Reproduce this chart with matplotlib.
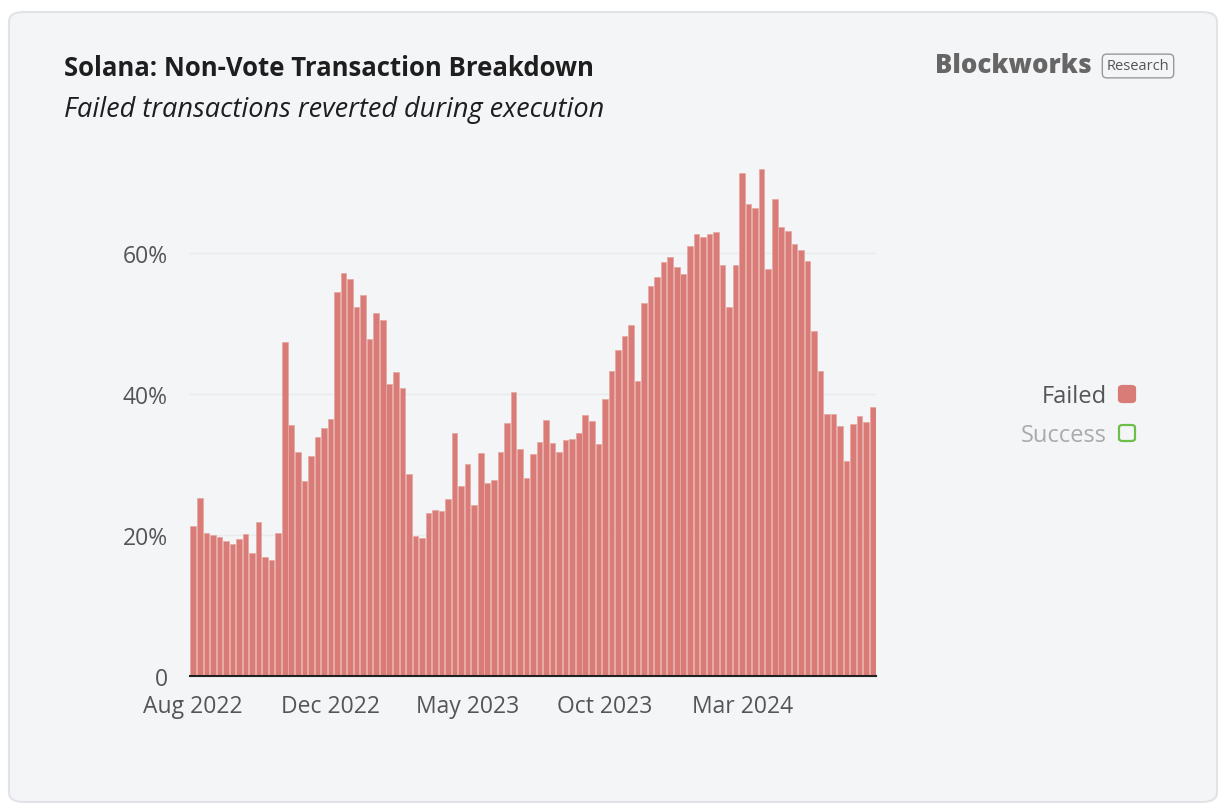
import matplotlib
matplotlib.use('Agg')
from matplotlib import pyplot as plt
from matplotlib.patches import FancyBboxPatch

plt.rcParams['font.family'] = ['Open Sans', 'DejaVu Sans']

# weekly share of non-vote transactions that failed, Aug 2022 - Aug 2024 (%)
failed = [
    21.2, 25.3, 20.3, 20.0, 19.7, 19.1, 18.7, 19.4, 20.1, 17.5,
    21.9, 16.9, 16.5, 20.2, 47.3, 35.6, 31.8, 27.7, 31.2, 33.9,
    35.2, 36.4, 54.4, 57.1, 56.3, 52.3, 54.0, 47.8, 51.4, 50.5,
    41.4, 43.1, 40.8, 28.7, 19.9, 19.6, 23.1, 23.5, 23.4, 25.1,
    34.5, 27.0, 30.1, 24.3, 31.6, 27.3, 27.8, 31.8, 35.9, 40.3,
    32.2, 28.1, 31.5, 33.2, 36.3, 33.0, 31.8, 33.5, 33.6, 34.5,
    37.0, 36.1, 32.9, 39.2, 43.3, 46.2, 48.2, 49.7, 41.8, 52.9,
    55.3, 56.5, 58.7, 59.4, 58.0, 57.0, 61.0, 62.7, 62.2, 62.6,
    63.0, 58.3, 52.3, 58.3, 71.3, 66.9, 66.3, 71.9, 57.7, 67.6,
    63.6, 63.1, 61.3, 60.4, 58.8, 48.9, 43.3, 37.2, 37.1, 35.5,
    30.5, 35.7, 36.9, 36.0, 38.2,
]
tick_idx = [0, 21, 42, 63, 84]
tick_labels = ['Aug 2022', 'Dec 2022', 'May 2023', 'Oct 2023', 'Mar 2024']
y_ticks = [0, 20, 40, 60]
y_labels = ['0', '20%', '40%', '60%']

bg = '#f4f5f7'
red = '#d97b76'
green = '#6cc04a'

fig = plt.figure(figsize=(12.28, 8.12), dpi=100)
fig.patch.set_facecolor('white')

# rounded card behind everything
card = FancyBboxPatch((9 / 1228, 9 / 812), 1208 / 1228, 790 / 812,
                      boxstyle='round,pad=0,rounding_size=0.012',
                      transform=fig.transFigure, facecolor=bg,
                      edgecolor='#e2e3e6', linewidth=1.5, zorder=-10)
fig.patches.append(card)

ax = fig.add_axes([190 / 1228, 1 - 677 / 812, 686 / 1228, 515 / 812])
ax.set_zorder(5)
ax.patch.set_alpha(0)

x = list(range(len(failed)))
ax.bar(x, failed, width=0.86, color=red, edgecolor='#e8a9a5', linewidth=0.6, zorder=2)

ax.set_xlim(-0.5, len(failed) - 0.5)
ax.set_ylim(0, 73)
ax.set_yticks(y_ticks)
ax.set_yticklabels(y_labels)
ax.set_xticks(tick_idx)
ax.set_xticklabels(tick_labels)
ax.tick_params(axis='both', length=0, labelsize=16.5, labelcolor='#555555')
ax.tick_params(axis='x', pad=13)
ax.tick_params(axis='y', pad=16)
for gy in y_ticks[1:]:
    ax.axhline(gy, color='#e9eaec', linewidth=1, zorder=1)
for side in ['top', 'right', 'left']:
    ax.spines[side].set_visible(False)
ax.spines['bottom'].set_color('#222222')
ax.spines['bottom'].set_linewidth(1.5)
ax.spines['bottom'].set_zorder(3)

# titles
fig.text(64 / 1228, 1 - 68 / 812, 'Solana: Non-Vote Transaction Breakdown',
         fontsize=18.5, fontweight='bold', color='#1e1e1e', va='center')
fig.text(64 / 1228, 1 - 110 / 812, 'Failed transactions reverted during execution',
         fontsize=19.5, fontstyle='italic', color='#1e1e1e', va='center')

# logo
fig.text(1092 / 1228, 1 - 66 / 812, 'Blockworks', fontsize=18.5, fontweight='heavy',
         color='#666666', ha='right', va='center')
fig.text(1138 / 1228, 1 - 67 / 812, 'Research', fontsize=10.5, color='#555555',
         ha='center', va='center',
         bbox=dict(boxstyle='round,pad=0.3,rounding_size=0.3', facecolor='none',
                   edgecolor='#999999', linewidth=1))

# legend
fig.text(1107 / 1228, 1 - 397 / 812, 'Failed', fontsize=17, color='#555555',
         ha='right', va='center')
fig.text(1107 / 1228, 1 - 436 / 812, 'Success', fontsize=17, color='#aaaaaa',
         ha='right', va='center')
for yy, fc, ec in [(395, red, red), (434, 'none', green)]:
    sq = FancyBboxPatch((1119 / 1228, 1 - (yy + 8) / 812), 16 / 1228, 16 / 812,
                        boxstyle='round,pad=0,rounding_size=0.003',
                        transform=fig.transFigure, facecolor=fc, edgecolor=ec,
                        linewidth=1.6)
    fig.patches.append(sq)

fig.savefig('out.png', dpi=100, facecolor='white')
